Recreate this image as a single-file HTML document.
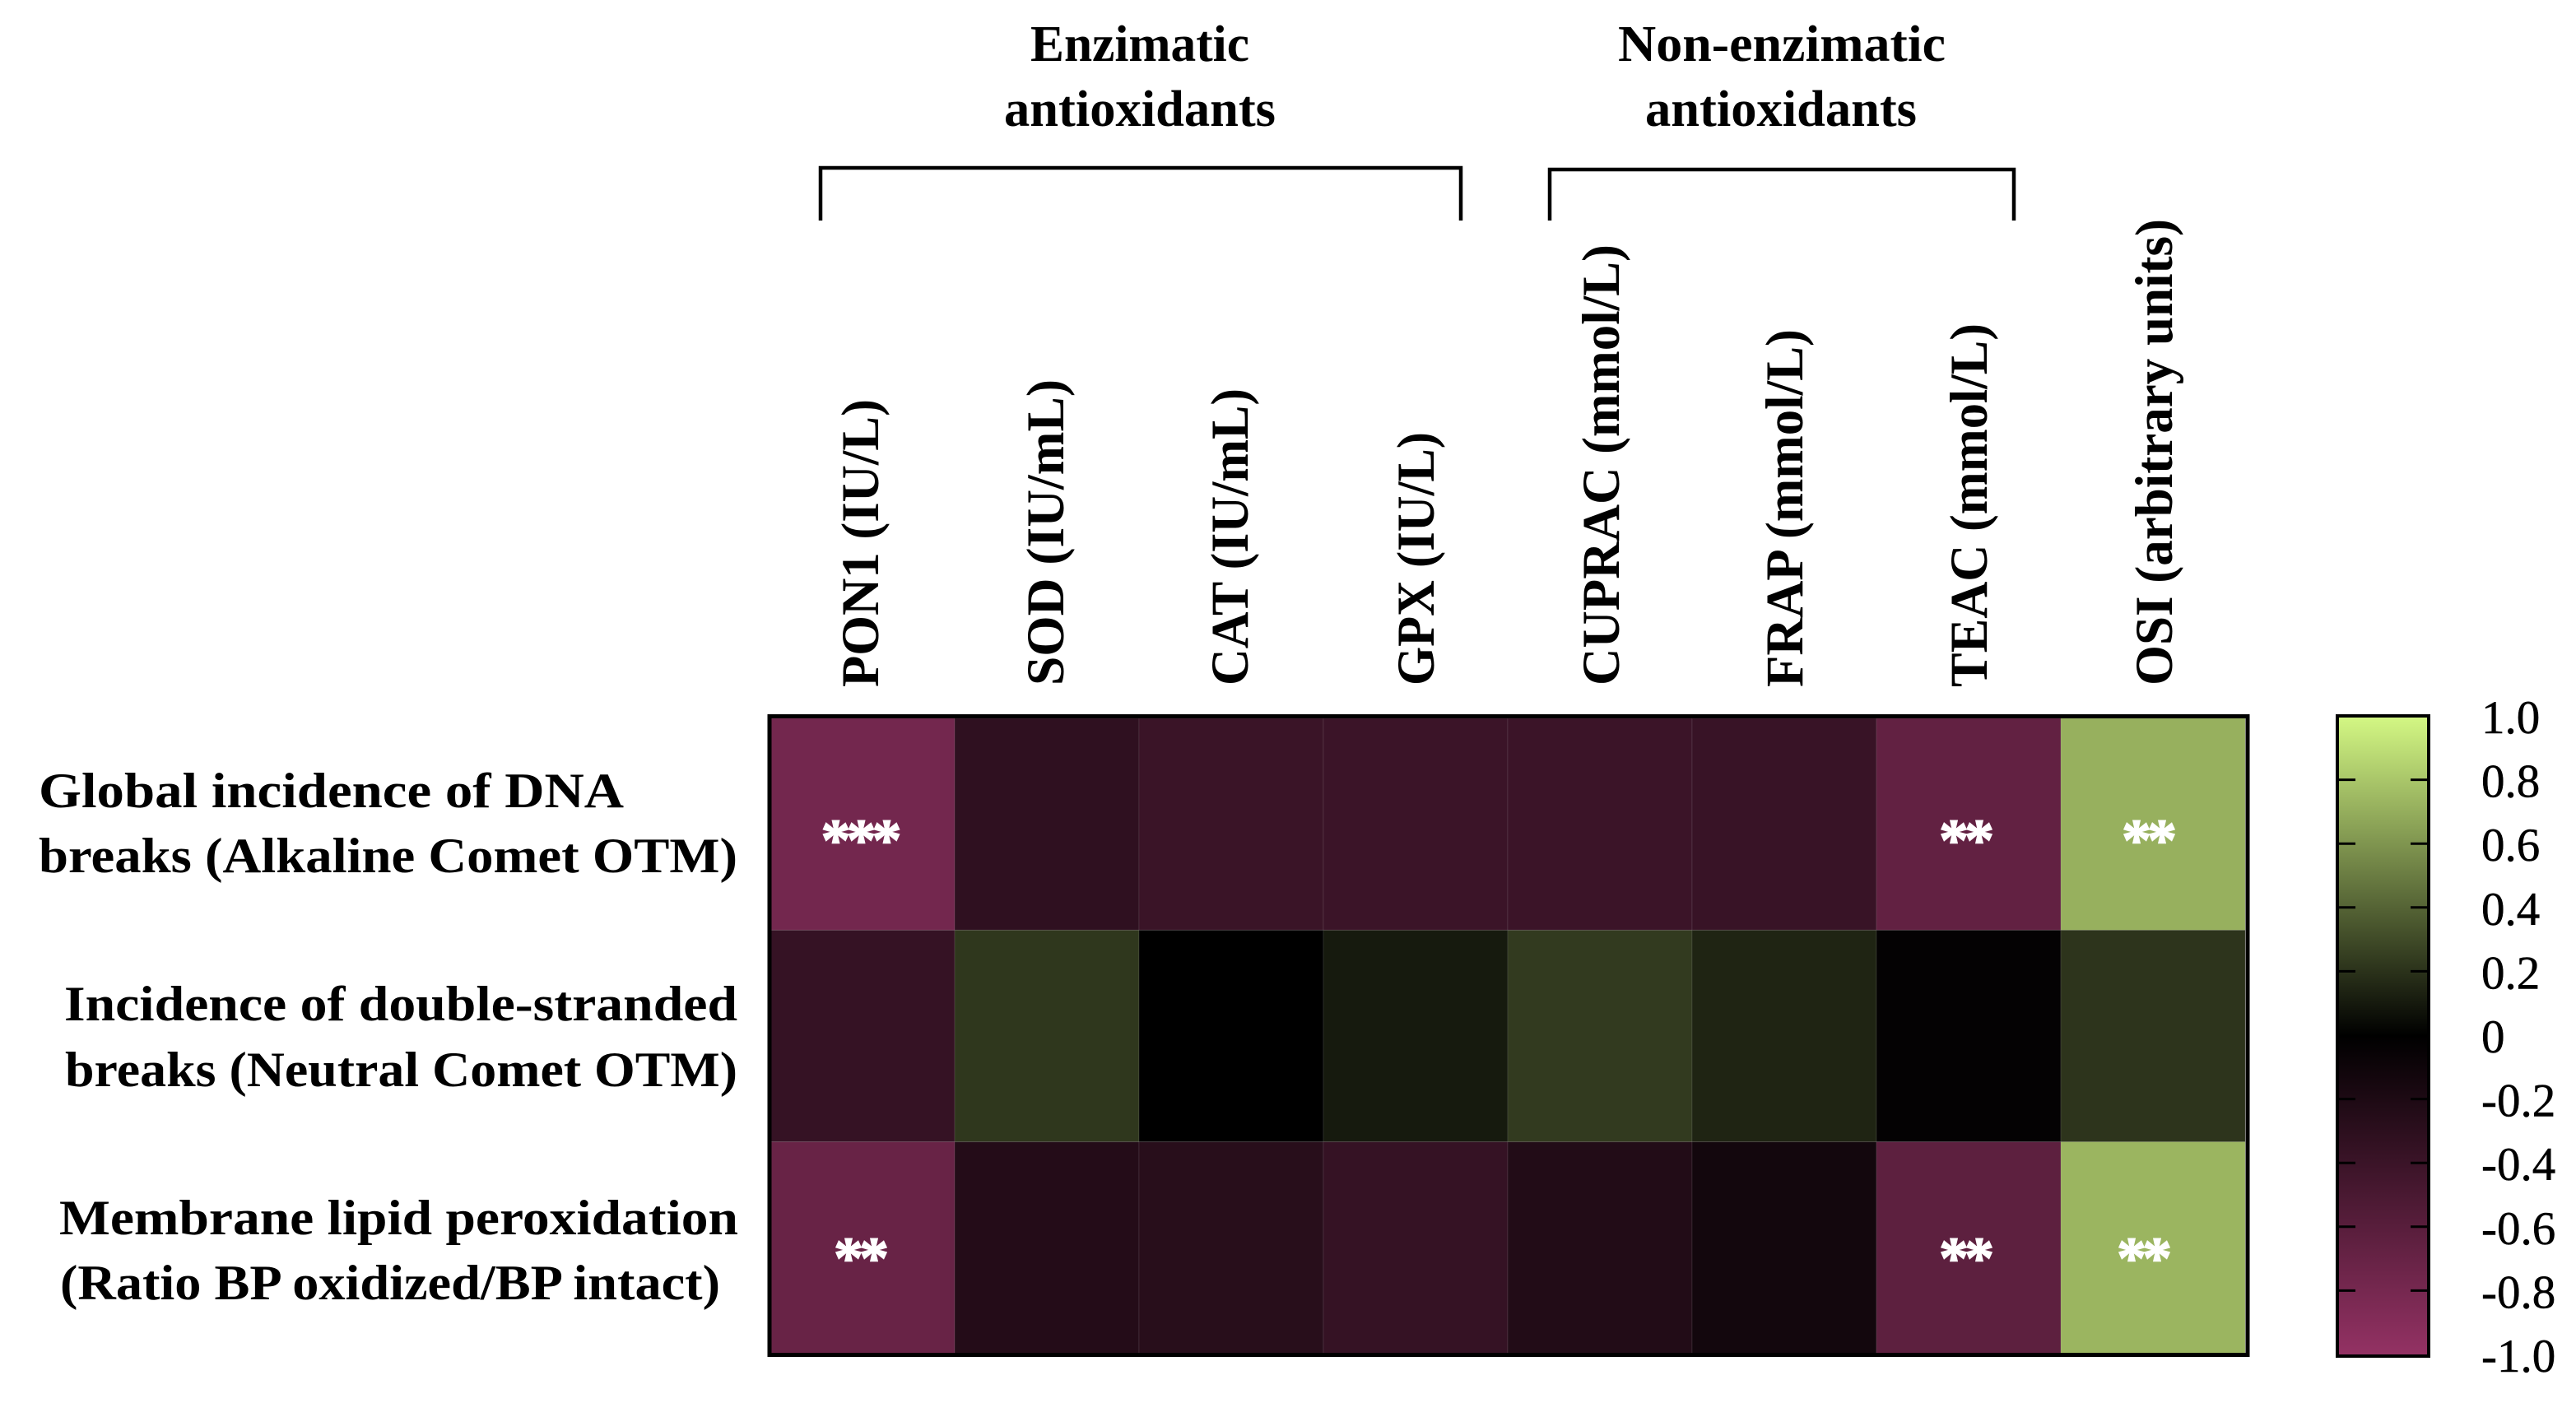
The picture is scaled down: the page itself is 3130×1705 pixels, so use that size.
<!DOCTYPE html>
<html lang="en">
<head>
<meta charset="utf-8">
<title>Correlation heatmap of antioxidants and DNA damage</title>
<style>
  html, body { margin: 0; padding: 0; background: #fff; }
  body { width: 3130px; height: 1705px; overflow: hidden; }
  svg { display: block; }
  text { font-family: "Liberation Serif", serif; fill: #000; }
  .bold { font-weight: 700; }
  .title { font-size: 62px; }
  .row { font-size: 60px; }
  .col { font-size: 65px; }
  .star { font-size: 72px; font-weight: 700; fill: #fff; stroke: #fff; stroke-width: 1.5; letter-spacing: -5px; }
  .tick { font-size: 57px; stroke: #000; stroke-width: 0.5; }
</style>
</head>
<body>
<svg id="chart" xmlns="http://www.w3.org/2000/svg" width="3130" height="1705" viewBox="0 0 3130 1705">
  <defs>
    <linearGradient id="colorbar-gradient" x1="0" y1="0" x2="0" y2="1"></linearGradient>
  </defs>
  <rect x="0" y="0" width="3130" height="1705" fill="#fff"/>

  <g>
    <text class="bold title" x="1252" y="74" textLength="266" lengthAdjust="spacingAndGlyphs">Enzimatic</text>
    <text class="bold title" x="1220" y="153" textLength="330" lengthAdjust="spacingAndGlyphs">antioxidants</text>
    <text class="bold title" x="1966" y="74" textLength="398" lengthAdjust="spacingAndGlyphs">Non-enzimatic</text>
    <text class="bold title" x="1999" y="153" textLength="330" lengthAdjust="spacingAndGlyphs">antioxidants</text>
    <path d="M997 268V204H1775V268" fill="none" stroke="#000" stroke-width="4.5"/>
    <path d="M1883 268V206H2447V268" fill="none" stroke="#000" stroke-width="4.5"/>
  </g>

  <g>
    <text class="bold col" transform="translate(1067 835) rotate(-90)" textLength="350" lengthAdjust="spacingAndGlyphs">PON1 (IU/L)</text>
    <text class="bold col" transform="translate(1292 833) rotate(-90)" textLength="372" lengthAdjust="spacingAndGlyphs">SOD (IU/mL)</text>
    <text class="bold col" transform="translate(1516 833) rotate(-90)" textLength="361" lengthAdjust="spacingAndGlyphs">CAT (IU/mL)</text>
    <text class="bold col" transform="translate(1742 833) rotate(-90)" textLength="308" lengthAdjust="spacingAndGlyphs">GPX (IU/L)</text>
    <text class="bold col" transform="translate(1967 833) rotate(-90)" textLength="536" lengthAdjust="spacingAndGlyphs">CUPRAC (mmol/L)</text>
    <text class="bold col" transform="translate(2190 835) rotate(-90)" textLength="435" lengthAdjust="spacingAndGlyphs">FRAP (mmol/L)</text>
    <text class="bold col" transform="translate(2414 835) rotate(-90)" textLength="442" lengthAdjust="spacingAndGlyphs">TEAC (mmol/L)</text>
    <text class="bold col" transform="translate(2639 833) rotate(-90)" textLength="567" lengthAdjust="spacingAndGlyphs">OSI (arbitrary units)</text>
  </g>

  <g>
    <text class="bold row" x="47" y="981" textLength="711" lengthAdjust="spacingAndGlyphs">Global incidence of DNA</text>
    <text class="bold row" x="47" y="1060" textLength="849" lengthAdjust="spacingAndGlyphs">breaks (Alkaline Comet OTM)</text>
    <text class="bold row" x="78" y="1240" textLength="818" lengthAdjust="spacingAndGlyphs">Incidence of double-stranded</text>
    <text class="bold row" x="79" y="1320" textLength="817" lengthAdjust="spacingAndGlyphs">breaks (Neutral Comet OTM)</text>
    <text class="bold row" x="72" y="1500" textLength="825" lengthAdjust="spacingAndGlyphs">Membrane lipid peroxidation</text>
    <text class="bold row" x="73" y="1579" textLength="802" lengthAdjust="spacingAndGlyphs">(Ratio BP oxidized/BP intact)</text>
  </g>

  <g id="cells"></g>
  <rect x="935" y="870.5" width="1796" height="776" fill="none" stroke="#000" stroke-width="5"/>

  <g>
    <text class="star" x="1044" y="1045" text-anchor="middle">***</text>
    <text class="star" x="2387" y="1045" text-anchor="middle">**</text>
    <text class="star" x="2609" y="1045" text-anchor="middle">**</text>
    <text class="star" x="1044" y="1553" text-anchor="middle">**</text>
    <text class="star" x="2387" y="1553" text-anchor="middle">**</text>
    <text class="star" x="2603" y="1553" text-anchor="middle">**</text>
  </g>

  <g>
    <rect x="2840" y="870" width="111" height="778" fill="url(#colorbar-gradient)" stroke="#000" stroke-width="4"/>
    <g id="scale-ticks"></g>
  </g>
</svg>

<script>
const globalBreaksValues = [-0.78, -0.32, -0.39, -0.40, -0.40, -0.38, -0.66, 0.71];
const doubleStrandValues = [-0.36, 0.22, 0.00, 0.105, 0.234, 0.145, -0.03, 0.21];
const lipidPeroxidationValues = [-0.70, -0.24, -0.27, -0.36, -0.23, -0.13, -0.63, 0.73];
const columnKeys = ['pon1', 'sod', 'cat', 'gpx', 'cuprac', 'frap', 'teac', 'osi'];
const rowKeys = ['global-breaks', 'double-strand', 'lipid-peroxidation'];
const scaleTickLabels = ['1.0', '0.8', '0.6', '0.4', '0.2', '0', '-0.2', '-0.4', '-0.6', '-0.8', '-1.0'];

const NS = 'http://www.w3.org/2000/svg';
const plotLeft = 937, plotRight = 2729, plotTop = 873, plotBottom = 1645;
const scaleTop = 870, scaleBottom = 1646;
const negativeEnd = [148, 50, 100];
const positiveEnd = [212, 248, 132];

function xBand(i) { return plotLeft + i * (plotRight - plotLeft) / columnKeys.length; }
function yBand(i) { return plotTop + i * (plotBottom - plotTop) / rowKeys.length; }
function scaleY(v) { return scaleBottom - (v + 1) / 2 * (scaleBottom - scaleTop); }
function colorFor(v) {
  const end = v < 0 ? negativeEnd : positiveEnd;
  const t = Math.min(1, Math.abs(v));
  return 'rgb(' + end.map(function (c) { return Math.round(c * t); }).join(',') + ')';
}

const rowsData = [globalBreaksValues, doubleStrandValues, lipidPeroxidationValues];
const cellsGroup = document.getElementById('cells');
rowsData.forEach(function (rowValues, r) {
  rowValues.forEach(function (value, c) {
    const cell = document.createElementNS(NS, 'rect');
    
    
    cell.setAttribute('x', xBand(c) - 1);
    cell.setAttribute('y', yBand(r));
    cell.setAttribute('width', xBand(c + 1) - xBand(c));
    cell.setAttribute('height', yBand(r + 1) - yBand(r));
    cell.setAttribute('fill', colorFor(value));
    cell.setAttribute('stroke', 'rgba(200,200,200,0.12)');
    cell.setAttribute('stroke-width', '1');
    cellsGroup.appendChild(cell);
  });
});

const gradient = document.getElementById('colorbar-gradient');
[1, 0, -1].forEach(function (v) {
  const stop = document.createElementNS(NS, 'stop');
  stop.setAttribute('offset', (1 - v) / 2);
  stop.setAttribute('stop-color', colorFor(v));
  gradient.appendChild(stop);
});

const ticksGroup = document.getElementById('scale-ticks');
scaleTickLabels.forEach(function (label) {
  const v = parseFloat(label);
  const y = scaleY(v);
  const text = document.createElementNS(NS, 'text');
  
  
  text.setAttribute('class', 'tick');
  text.setAttribute('x', 3015);
  text.setAttribute('y', y + 21);
  text.textContent = label;
  ticksGroup.appendChild(text);
  if (Math.abs(v) === 1 || v === 0) return;
  [[2842, 2862], [2929, 2949]].forEach(function (span) {
    const tick = document.createElementNS(NS, 'line');
    
    
    tick.setAttribute('x1', span[0]);
    tick.setAttribute('x2', span[1]);
    tick.setAttribute('y1', y);
    tick.setAttribute('y2', y);
    tick.setAttribute('stroke', '#000');
    tick.setAttribute('stroke-width', '3');
    ticksGroup.appendChild(tick);
  });
});
</script>
</body>
</html>
